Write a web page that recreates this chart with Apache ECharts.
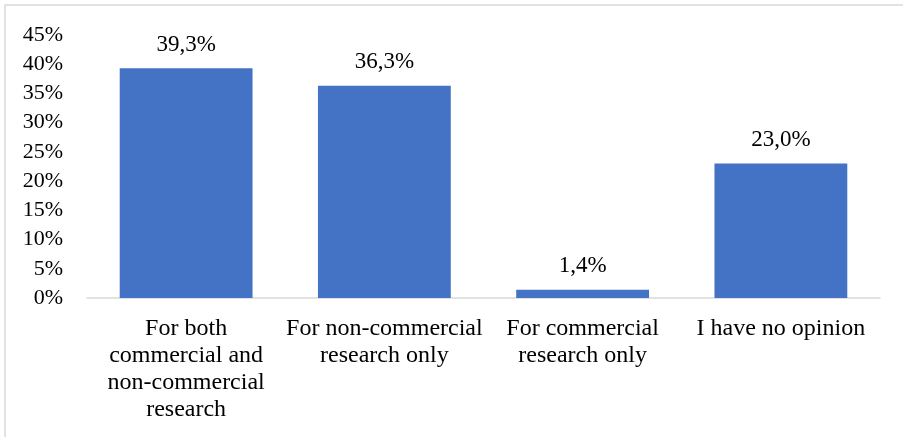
<!DOCTYPE html>
<html>
<head>
<meta charset="utf-8">
<script src="https://cdn.jsdelivr.net/npm/echarts@6/dist/echarts.min.js"></script>
<style>
  html, body { margin: 0; padding: 0; background: #fff; }
  #chart { width: 903px; height: 437px; }
</style>
</head>
<body>
<div id="chart"></div>
<script>
// Survey answers and their shares (percent)
const categories = [
  'For both\ncommercial and\nnon-commercial\nresearch',
  'For non-commercial\nresearch only',
  'For commercial\nresearch only',
  'I have no opinion'
];
const shares = [39.3, 36.3, 1.4, 23.0];
const yTicks = [0, 5, 10, 15, 20, 25, 30, 35, 40, 45];

const serif = '"Liberation Serif", "Times New Roman", serif';
const chart = echarts.init(document.getElementById('chart'));

chart.setOption({
  animation: false,
  graphic: [{
    type: 'rect',
    shape: { x: 5, y: 5, width: 1200, height: 1200 },
    style: { fill: 'none', stroke: '#d9d9d9', lineWidth: 1.5 },
    silent: true
  }],
  grid: { left: 87, right: 23, top: 35, bottom: 139 },
  xAxis: {
    type: 'category',
    data: categories,
    axisLine: { show: true, lineStyle: { color: '#d9d9d9', width: 1.5 } },
    axisTick: { show: false },
    axisLabel: {
      color: '#000', fontFamily: serif, fontSize: 24, lineHeight: 27,
      margin: 17, interval: 0
    }
  },
  yAxis: {
    type: 'value',
    min: yTicks[0],
    max: yTicks[yTicks.length - 1],
    interval: yTicks[1] - yTicks[0],
    axisLine: { show: false },
    axisTick: { show: false },
    splitLine: { show: false },
    axisLabel: {
      color: '#000', fontFamily: serif, fontSize: 22, margin: 24,
      formatter: v => v + '%'
    }
  },
  series: [{
    type: 'bar',
    data: shares,
    barCategoryGap: '33%',
    itemStyle: { color: '#4472c4' },
    label: {
      show: true,
      position: 'top',
      distance: 12,
      color: '#000',
      fontFamily: serif,
      fontSize: 23,
      formatter: p => p.value.toFixed(1).replace('.', ',') + '%'
    }
  }]
});
</script>
</body>
</html>
